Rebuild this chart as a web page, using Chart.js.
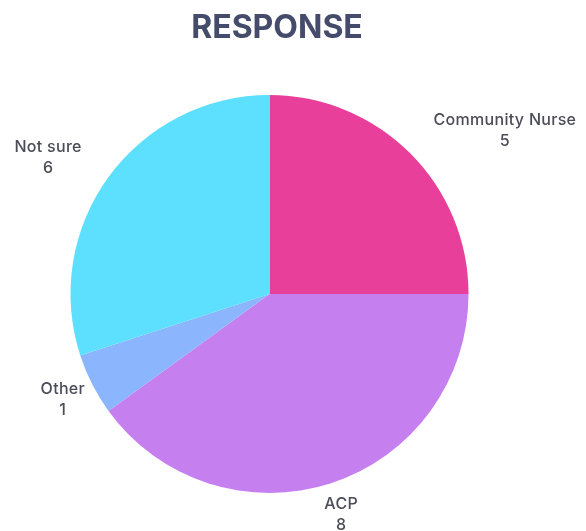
<!DOCTYPE html>
<html>
<head>
<meta charset="utf-8">
<script src="https://cdn.jsdelivr.net/npm/chart.js@4/dist/chart.umd.min.js"></script>
<style>
html,body{margin:0;padding:0;background:#fff;}
#wrap{width:586px;height:531px;position:relative;}
</style>
</head>
<body>
<div id="wrap"><canvas id="c" width="586" height="531"></canvas></div>
<script>
const categories = ["Community Nurse", "ACP", "Other", "Not sure"];
const values = [5, 8, 1, 6];
const colors = ["#E8409A", "#C57FEF", "#8BB5FD", "#5CE0FD"];
const titleText = "RESPONSE";

const labelPlugin = {
  id: 'outerLabels',
  afterDraw(chart, args, opts) {
    const ctx = chart.ctx;
    const meta = chart.getDatasetMeta(0);
    ctx.save();
    // title
    ctx.font = "bold 32px Inter, 'Open Sans', sans-serif";
    ctx.fillStyle = "#454B6B";
    ctx.textAlign = "center";
    ctx.textBaseline = "middle";
    ctx.fillText(titleText, 277, 28);
    // labels
    ctx.font = "500 16px Inter, 'Open Sans', sans-serif";
    if ('letterSpacing' in ctx) ctx.letterSpacing = "0.3px";
    ctx.fillStyle = "#4C4C58";
    meta.data.forEach((arc, i) => {
      const p = arc.getProps(['x','y','startAngle','endAngle','outerRadius'], true);
      const mid = (p.startAngle + p.endAngle) / 2;
      const r = p.outerRadius + opts.offset;
      const x = p.x + Math.cos(mid) * r;
      const y = p.y + Math.sin(mid) * r;
      const lines = [categories[i], String(values[i])];
      const w = ctx.measureText(lines[0]).width;
      let cx = x;
      const a = opts.align[i];
      if (a === 'left') cx = x + w / 2;
      else if (a === 'right') cx = x - w / 2;
      ctx.textAlign = "center";
      ctx.fillText(lines[0], cx, y - 10);
      ctx.fillText(lines[1], cx, y + 11);
    });
    ctx.restore();
  }
};

new Chart(document.getElementById('c'), {
  type: 'pie',
  data: {
    labels: categories,
    datasets: [{
      data: values,
      backgroundColor: colors,
      borderWidth: 0,
      hoverOffset: 0
    }]
  },
  options: {
    responsive: false,
    animation: false,
    events: [],
    layout: { padding: { left: 70.5, right: 117.5, top: 95, bottom: 38 } },
    plugins: {
      legend: { display: false },
      title: { display: false },
      tooltip: { enabled: false },
      outerLabels: {
        offset: 33,
        align: ['left', 'center', 'center', 'right']
      }
    }
  },
  plugins: [labelPlugin]
});
</script>
</body>
</html>
